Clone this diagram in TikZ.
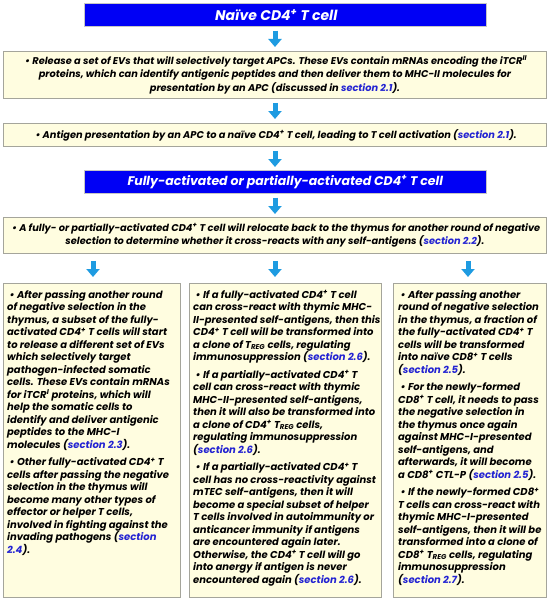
\documentclass[tikz,border=0pt]{standalone}
\usepackage{fontspec}
\setmainfont{Poppins}
\usetikzlibrary{arrows.meta}
\definecolor{titleblue}{RGB}{0,0,245}
\definecolor{cream}{RGB}{255,253,224}
\definecolor{boxgray}{RGB}{165,165,155}
\definecolor{arrowblue}{RGB}{30,155,225}
\definecolor{linkblue}{RGB}{35,35,210}
\newcommand{\sect}[1]{\textcolor{linkblue}{#1}}
\newcommand{\mysup}[1]{\textsuperscript{#1}}
\newcommand{\mysub}[1]{\textsubscript{#1}}
\newcommand{\bul}{\hspace*{2.5pt}\textbullet\ }
\begin{document}
\begin{tikzpicture}[x=1pt,y=-1pt,
  titlebox/.style={fill=titleblue, draw=gray!45, line width=0.6pt, inner sep=0pt, text=white,
    font=\bfseries\itshape\fontsize{12.5}{14}\selectfont},
  ybox/.style={fill=cream, draw=boxgray, line width=0.8pt, inner sep=0pt},
  txt/.style={inner sep=0pt, font=\bfseries\itshape\fontsize{9.8}{13.2}\selectfont},
  ctxt/.style={txt, align=center},
  ltxt/.style={inner sep=0pt, align=left, anchor=north west, font=\bfseries\itshape\fontsize{10}{12.5}\selectfont},
  barrow/.style={draw=arrowblue, line width=5pt, -{Triangle[width=13pt,length=8pt]}}
]
\useasboundingbox (0,0) rectangle (550,602);
\fill[white] (0,0) rectangle (550,602);

% boxes
\node[titlebox, minimum width=402pt, minimum height=23pt, anchor=north west] (t1) at (84,3) {};
\node[ybox, minimum width=543pt, minimum height=47pt, anchor=north west] (b1) at (3,51) {};
\node[ybox, minimum width=543pt, minimum height=23pt, anchor=north west] (b2) at (3,123) {};
\node[titlebox, minimum width=402pt, minimum height=23pt, anchor=north west] (t2) at (84,170) {};
\node[ybox, minimum width=543pt, minimum height=36pt, anchor=north west] (b3) at (3,217) {};
\node[ybox, minimum width=177pt, minimum height=314pt, anchor=north west] (c1) at (3,283) {};
\node[ybox, minimum width=192pt, minimum height=314pt, anchor=north west] (c2) at (189,283) {};
\node[ybox, minimum width=153pt, minimum height=314pt, anchor=north west] (c3) at (393,283) {};

% titles
\node[titlebox, draw=none, fill=none, font=\bfseries\itshape\fontsize{14}{15}\selectfont] (t1t) at ([xshift=-9pt]t1.center) {Naïve CD4\mysup{+} T cell};
\node[titlebox, draw=none, fill=none] (t2t) at (t2.center) {Fully-activated or partially-activated CD4\mysup{+} T cell};

% wide box texts
\node[ctxt] (b1t) at (b1.center) {\bul Release a set of EVs that will selectively target APCs. These EVs contain mRNAs encoding the iTCR\mysup{II}\\
proteins, which can identify antigenic peptides and then deliver them to MHC-II molecules for\\
presentation by an APC (discussed in \sect{section 2.1}).};
\node[ctxt] (b2t) at (b2.center) {\bul Antigen presentation by an APC to a naïve CD4\mysup{+} T cell, leading to T cell activation (\sect{section 2.1}).};
\node[ctxt] (b3t) at (b3.center) {\bul A fully- or partially-activated CD4\mysup{+} T cell will relocate back to the thymus for another round of negative\\
selection to determine whether it cross-reacts with any self-antigens (\sect{section 2.2}).};

% column texts
\node[ltxt] (c1t) at (7,290) {\bul After passing another round\\
of negative selection in the\\
thymus, a subset of the fully-\\
activated CD4\mysup{+} T cells will start\\
to release a different set of EVs\\
which selectively target\\
pathogen-infected somatic\\
cells. These EVs contain mRNAs\\
for iTCR\mysup{I} proteins, which will\\
help the somatic cells to\\
identify and deliver antigenic\\
peptides to the MHC-I\\
molecules (\sect{section 2.3}).\\[5pt]
\bul Other fully-activated CD4\mysup{+} T\\
cells after passing the negative\\
selection in the thymus will\\
become many other types of\\
effector or helper T cells,\\
involved in fighting against the\\
invading pathogens (\sect{section}\\
\sect{2.4}).};

\node[ltxt] (c2t) at (193,290) {\bul If a fully-activated CD4\mysup{+} T cell\\
can cross-react with thymic MHC-\\
II-presented self-antigens, then this\\
CD4\mysup{+} T cell will be transformed into\\
a clone of T\mysub{REG} cells, regulating\\
immunosuppression (\sect{section 2.6}).\\[5pt]
\bul If a partially-activated CD4\mysup{+} T\\
cell can cross-react with thymic\\
MHC-II-presented self-antigens,\\
then it will also be transformed into\\
a clone of CD4\mysup{+} T\mysub{REG} cells,\\
regulating immunosuppression\\
(\sect{section 2.6}).\\[5pt]
\bul If a partially-activated CD4\mysup{+} T\\
cell has no cross-reactivity against\\
mTEC self-antigens, then it will\\
become a special subset of helper\\
T cells involved in autoimmunity or\\
anticancer immunity if antigens\\
are encountered again later.\\
Otherwise, the CD4\mysup{+} T cell will go\\
into anergy if antigen is never\\
encountered again (\sect{section 2.6}).};

\node[ltxt] (c3t) at (398,290) {\bul After passing another\\
round of negative selection\\
in the thymus, a fraction of\\
the fully-activated CD4\mysup{+} T\\
cells will be transformed\\
into naïve CD8\mysup{+} T cells\\
(\sect{section 2.5}).\\[5pt]
\bul For the newly-formed\\
CD8\mysup{+} T cell, it needs to pass\\
the negative selection in\\
the thymus once again\\
against MHC-I-presented\\
self-antigens, and\\
afterwards, it will become\\
a CD8\mysup{+} CTL-P (\sect{section 2.5}).\\[5pt]
\bul If the newly-formed CD8\mysup{+}\\
T cells can cross-react with\\
thymic MHC-I-presented\\
self-antigens, then it will be\\
transformed into a clone of\\
CD8\mysup{+} T\mysub{REG} cells, regulating\\
immunosuppression\\
(\sect{section 2.7}).};

% arrows
\coordinate (ax) at (275,0);
\coordinate (ax1) at (93,0);
\coordinate (ax3) at (468,0);
\draw[barrow, shorten <=4pt, shorten >=4pt] (t1.south -| ax) -- (b1.north -| ax);
\draw[barrow, shorten <=4pt, shorten >=4pt] (b1.south -| ax) -- (b2.north -| ax);
\draw[barrow, shorten <=4pt, shorten >=3pt] (b2.south -| ax) -- (t2.north -| ax);
\draw[barrow, shorten <=4pt, shorten >=3pt] (t2.south -| ax) -- (b3.north -| ax);
\draw[barrow, shorten <=7pt, shorten >=6pt] (b3.south -| ax1) -- (c1.north -| ax1);
\draw[barrow, shorten <=7pt, shorten >=6pt] (b3.south -| ax) -- (c2.north -| ax);
\draw[barrow, shorten <=7pt, shorten >=6pt] (b3.south -| ax3) -- (c3.north -| ax3);
\end{tikzpicture}
\end{document}
